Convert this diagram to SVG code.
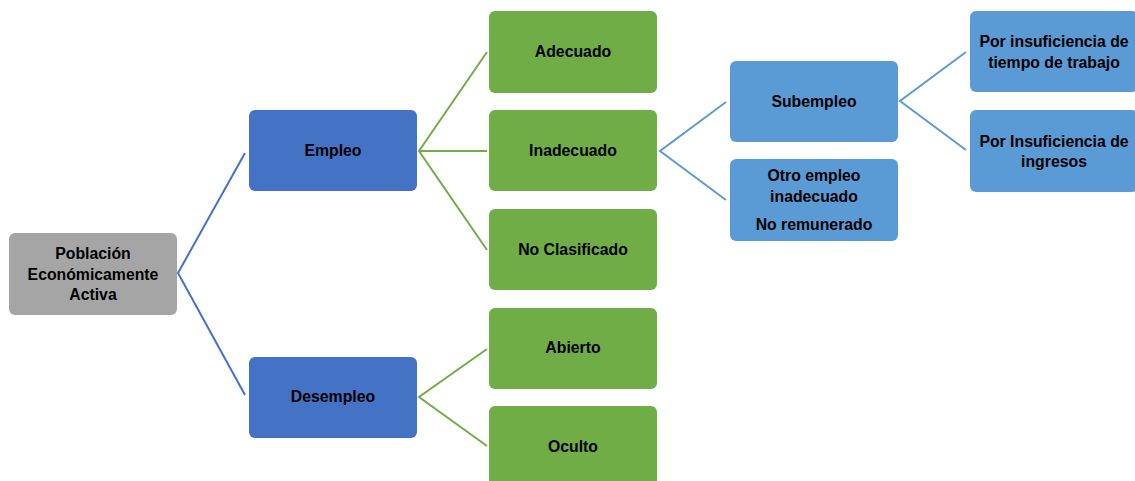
<svg xmlns="http://www.w3.org/2000/svg" width="1135" height="481" viewBox="0 0 1135 481">
<style>
.n{stroke:none}
.gray{fill:#a5a5a5}
.dblue{fill:#4472c4}
.green{fill:#70ad47}
.lblue{fill:#5b9bd5}
text{font-family:"Liberation Sans",Arial,sans-serif;font-weight:bold;font-size:15.8px;fill:#000;text-anchor:middle}
.c{fill:none;stroke-width:2}
.cb{stroke:#4472c4}
.cg{stroke:#70ad47}
.cl{stroke:#5b9bd5}
</style>
<rect width="1135" height="481" fill="#fff"/>
<g id="connectors">
<polyline class="c cb" points="245,153 178,273 245,395"/>
<polyline class="c cg" points="487,52 419,151 487,250"/>
<line class="c cg" x1="419" y1="151" x2="487" y2="151"/>
<polyline class="c cg" points="487,349 419,397 487,446"/>
<polyline class="c cl" points="726,102 660,151 726,200"/>
<polyline class="c cl" points="966,52 900,101 966,150"/>
</g>
<g id="poblacion">
<rect class="n gray" x="9" y="233" width="168" height="82" rx="6"/>
<text x="93" y="259">Población</text>
<text x="93" y="280">Económicamente</text>
<text x="93" y="300">Activa</text>
</g>
<g id="empleo">
<rect class="n dblue" x="249" y="110" width="168" height="81" rx="6"/>
<text x="333" y="156">Empleo</text>
</g>
<g id="desempleo">
<rect class="n dblue" x="249" y="357" width="168" height="81" rx="6"/>
<text x="333" y="402">Desempleo</text>
</g>
<g id="adecuado">
<rect class="n green" x="489" y="11" width="168" height="82" rx="6"/>
<text x="573" y="57">Adecuado</text>
</g>
<g id="inadecuado">
<rect class="n green" x="489" y="110" width="168" height="81" rx="6"/>
<text x="573" y="156">Inadecuado</text>
</g>
<g id="noclasificado">
<rect class="n green" x="489" y="209" width="168" height="81" rx="6"/>
<text x="573" y="255">No Clasificado</text>
</g>
<g id="abierto">
<rect class="n green" x="489" y="308" width="168" height="81" rx="6"/>
<text x="573" y="353">Abierto</text>
</g>
<g id="oculto">
<rect class="n green" x="489" y="406" width="168" height="85" rx="6"/>
<text x="573" y="452">Oculto</text>
</g>
<g id="subempleo">
<rect class="n lblue" x="730" y="61" width="168" height="81" rx="6"/>
<text x="814" y="107">Subempleo</text>
</g>
<g id="otroempleo">
<rect class="n lblue" x="730" y="159" width="168" height="82" rx="6"/>
<text x="814" y="181">Otro empleo</text>
<text x="814" y="202">inadecuado</text>
<text x="814" y="230">No remunerado</text>
</g>
<g id="tiempo">
<rect class="n lblue" x="970" y="11" width="168" height="81" rx="6"/>
<text x="1054" y="47">Por insuficiencia de</text>
<text x="1054" y="68">tiempo de trabajo</text>
</g>
<g id="ingresos">
<rect class="n lblue" x="970" y="110" width="168" height="82" rx="6"/>
<text x="1054" y="147">Por Insuficiencia de</text>
<text x="1054" y="167">ingresos</text>
</g>
</svg>
